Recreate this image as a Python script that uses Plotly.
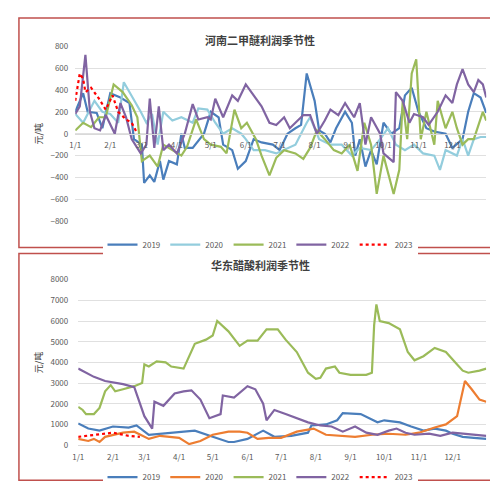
import plotly.graph_objects as go

# ---- Top chart: 河南二甲醚利润季节性 ----
t19_d = ["01-01","01-08","01-12","01-20","01-25","02-01","02-10","02-18","02-22","03-01","03-03","03-08","03-12","03-17","03-20","03-25","04-01","04-05","04-08","04-15","04-25","05-01","05-08","05-12","05-20","05-25","06-01","06-08","06-15","06-25","07-01","07-08","07-15","07-20","07-25","08-01","08-05","08-10","08-15","08-20","08-28","09-03","09-06","09-10","09-15","09-20","09-25","10-01","10-08","10-15","10-20","10-26","11-01","11-08","11-15","11-25","12-01","12-10","12-15","12-20","12-26","12-31"]
t19_v = [200,370,200,190,50,370,330,280,-50,-100,-450,-380,-440,-250,-420,-250,-280,0,-130,-130,0,200,150,-100,-150,-320,-250,-50,-80,-100,-150,0,50,80,550,300,30,0,-80,50,200,100,-200,-50,-300,-150,-280,100,0,50,350,420,200,50,20,0,-130,-50,200,370,330,190]
t20_d = ["01-01","01-08","01-18","01-25","02-01","02-08","02-13","02-20","02-28","03-05","03-10","03-15","03-20","03-28","04-05","04-15","04-20","04-28","05-05","05-12","05-20","05-28","06-01","06-08","06-18","06-28","07-05","07-15","07-25","07-28","08-05","08-15","08-25","09-03","09-10","09-20","09-28","10-05","10-12","10-20","10-28","11-05","11-15","11-20","11-25","12-05","12-10","12-15","12-20","12-26","12-31"]
t20_v = [180,100,300,200,180,100,470,350,200,100,180,-100,200,120,150,100,230,220,100,0,50,0,-50,-150,-150,-180,-150,-100,100,150,-50,-100,-100,-200,-130,-150,-50,50,-100,-150,-100,-180,-200,-330,-150,-200,-50,-200,-50,-30,-30]
t21_d = ["01-01","01-08","01-15","01-22","01-28","02-04","02-12","02-20","02-25","03-01","03-08","03-15","03-20","03-28","04-05","04-10","04-18","04-25","05-01","05-10","05-15","05-22","05-28","06-02","06-10","06-15","06-22","06-28","07-05","07-15","07-22","07-28","08-03","08-10","08-18","08-25","09-01","09-08","09-14","09-20","09-25","10-01","10-10","10-15","10-18","10-22","10-26","10-30","11-03","11-08","11-15","11-18","11-25","12-01","12-05","12-10","12-15","12-20","12-28","12-31"]
t21_v = [30,100,60,150,150,450,380,260,150,-250,-200,-300,-100,-150,-200,-120,130,-50,-100,-120,-180,220,50,100,-50,-200,-380,-220,-150,-180,-230,-130,30,-50,-150,-180,-100,-340,100,-100,-550,-200,-550,-330,300,-50,550,680,-50,200,-100,300,50,200,50,-100,-50,-50,200,120]
t22_d = ["01-01","01-05","01-10","01-14","01-18","01-23","01-28","02-05","02-10","02-15","02-20","02-28","03-05","03-08","03-12","03-16","03-20","03-25","04-01","04-08","04-15","04-20","04-28","05-01","05-05","05-12","05-20","05-25","06-01","06-08","06-15","06-22","06-28","07-05","07-10","07-15","07-22","07-28","08-03","08-10","08-15","08-22","08-28","09-05","09-10","09-15","09-20","09-28","10-01","10-10","10-12","10-18","10-24","10-28","11-05","11-10","11-18","11-25","12-01","12-05","12-10","12-15","12-20","12-24","12-28","12-31"]
t22_v = [180,250,720,200,50,30,170,0,280,150,-50,-180,-100,320,-130,250,-150,-100,-180,0,270,130,150,130,320,150,350,300,450,350,250,100,80,150,50,100,170,170,0,120,220,170,280,150,280,-100,150,0,-180,-260,380,300,100,180,150,80,200,350,280,450,590,450,380,490,450,330]
t23_d = ["01-01","01-05","01-08","01-10","01-15","01-22","01-28","02-03","02-08","02-15","02-20","02-25"]
t23_v = [300,550,500,380,420,320,220,350,200,130,100,0]

# ---- Bottom chart: 华东醋酸利润季节性 ----
b19_d = ["01-01","01-10","01-20","02-01","02-15","02-22","03-05","03-15","04-01","04-15","05-01","05-15","05-20","06-01","06-15","06-25","07-10","07-25","07-28","08-10","08-20","08-25","09-10","09-25","10-01","10-15","10-25","11-05","11-15","11-25","12-01","12-10","12-20","12-31"]
b19_v = [1050,800,700,900,850,950,500,550,600,700,400,150,150,300,700,400,450,600,950,1000,1200,1550,1500,1100,1200,1100,900,700,800,700,550,400,350,300]
b20_d = ["01-01","01-10","01-15","01-20","01-25","02-10","02-20","03-05","03-15","04-01","04-10","04-20","05-01","05-15","05-25","06-01","06-10","06-20","07-01","07-15","07-25","07-30","08-10","08-25","09-05","09-20","10-05","10-20","11-01","11-15","11-25","12-05","12-12","12-18","12-25","12-31"]
b20_v = [300,200,300,150,400,600,650,300,450,350,50,200,500,650,650,600,300,350,350,650,750,800,500,450,400,500,550,500,600,850,1000,1400,3100,2700,2200,2100]
b21_d = ["01-01","01-05","01-08","01-15","01-20","01-25","01-30","02-03","02-10","02-20","02-27","03-01","03-05","03-12","03-20","03-25","04-05","04-10","04-15","04-25","05-01","05-05","05-15","05-25","06-01","06-10","06-18","06-28","07-05","07-15","07-25","08-01","08-05","08-10","08-18","08-22","09-01","09-15","09-20","09-22","09-24","09-27","10-05","10-15","10-22","10-28","11-05","11-15","11-25","12-05","12-10","12-15","12-25","12-31"]
b21_v = [1850,1700,1500,1500,1800,2600,2900,2600,2700,2850,3000,3900,3800,4050,4000,3800,3700,4300,4900,5100,5300,6000,5500,4800,5050,5050,5600,5600,5100,4500,3500,3200,3250,3700,3800,3500,3400,3400,3500,5800,6800,6000,5900,5600,4500,4100,4300,4700,4500,3900,3600,3500,3600,3700]
b22_d = ["01-01","01-15","01-25","02-10","02-20","03-01","03-08","03-10","03-18","03-28","04-05","04-12","04-20","04-28","05-08","05-10","05-20","06-01","06-08","06-15","06-18","06-25","07-05","07-15","07-25","08-05","08-15","08-25","09-05","09-15","09-25","10-05","10-12","10-20","10-28","11-10","11-20","12-01","12-10","12-20","12-31"]
b22_v = [3700,3300,3100,2950,2800,1400,800,2100,1900,2500,2600,2650,2200,1300,1500,2400,2300,2850,2700,2000,1200,1700,1500,1300,1100,950,900,650,900,600,500,700,800,600,500,550,450,600,550,500,450]
b23_d = ["01-01","01-20","02-01","02-15","02-25"]
b23_v = [400,500,600,450,400]

years = ["2019","2020","2021","2022","2023"]
top_colors = ["#4a7ebb", "#93cddd", "#9bbb59", "#8064a2", "#ff0000"]
bot_colors = ["#4a7ebb", "#ed7d31", "#9bbb59", "#8064a2", "#ff0000"]
month_ticks = ["2021-%02d-01" % m for m in range(1, 13)]
month_text = ["%d/1" % m for m in range(1, 13)]

def dates(d):
    return ["2021-" + s for s in d]

fig = go.Figure()
top = [(t19_d, t19_v), (t20_d, t20_v), (t21_d, t21_v), (t22_d, t22_v), (t23_d, t23_v)]
bot = [(b19_d, b19_v), (b20_d, b20_v), (b21_d, b21_v), (b22_d, b22_v), (b23_d, b23_v)]
for i, (d, v) in enumerate(top):
    fig.add_trace(go.Scatter(x=dates(d), y=v, mode="lines", name=years[i], xaxis="x", yaxis="y",
                             legend="legend",
                             line=dict(color=top_colors[i], width=2.2,
                                       dash="dot" if i == 4 else "solid")))
for i, (d, v) in enumerate(bot):
    fig.add_trace(go.Scatter(x=dates(d), y=v, mode="lines", name=years[i], xaxis="x2", yaxis="y2",
                             legend="legend2",
                             line=dict(color=bot_colors[i], width=2.2,
                                       dash="dot" if i == 4 else "solid")))

W, H = 498, 484
def py(p): return 1 - p / H
def px(p): return p / W

tick_font = dict(family="Noto Sans CJK SC, Noto Sans", size=8, color="#595959")
fig.update_layout(
    width=W, height=H, margin=dict(l=0, r=0, t=0, b=0),
    paper_bgcolor="white", plot_bgcolor="white", font=tick_font,
    xaxis=dict(domain=[px(62), px(478)], anchor="free", position=py(123), type="date",
               range=["2021-01-01", "2021-12-31"], tickvals=month_ticks, ticktext=month_text,
               showgrid=False, showline=True, linecolor="#d9d9d9", ticks="", tickfont=tick_font,
               ticklabelstandoff=4),
    yaxis=dict(domain=[py(213), py(33)], range=[-800, 800], dtick=200, gridcolor="#e0e0e0",
               zeroline=False, tickfont=tick_font, ticklabelstandoff=6,
               title=dict(text="元/吨", font=dict(size=9, color="#404040"), standoff=6)),
    xaxis2=dict(domain=[px(65), px(478)], anchor="y2", type="date",
                range=["2021-01-01", "2021-12-31"], tickvals=month_ticks, ticktext=month_text,
                showgrid=False, showline=True, linecolor="#d9d9d9", ticks="", tickfont=tick_font,
                ticklabelstandoff=4),
    yaxis2=dict(domain=[py(443), py(273)], range=[0, 8000], dtick=1000, gridcolor="#e0e0e0",
                zeroline=False, tickfont=tick_font, ticklabelstandoff=6,
                title=dict(text="元/吨", font=dict(size=9, color="#404040"), standoff=6)),
    legend=dict(orientation="h", x=0.5, xanchor="center", y=py(222), yanchor="top",
                font=dict(size=8, color="#595959"), itemwidth=30),
    legend2=dict(orientation="h", x=0.5, xanchor="center", y=py(461), yanchor="top",
                 font=dict(size=8, color="#595959"), itemwidth=30),
    showlegend=True,
    annotations=[
        dict(text="<b>河南二甲醚利润季节性</b>", x=0.5, y=py(16), xref="paper", yref="paper",
             showarrow=False, font=dict(size=11, color="#404040")),
        dict(text="<b>华东醋酸利润季节性</b>", x=0.5, y=py(258), xref="paper", yref="paper",
             showarrow=False, font=dict(size=11, color="#404040")),
    ],
    shapes=[
        dict(type="rect", xref="paper", yref="paper", x0=px(5), x1=px(492), y0=py(240), y1=py(4),
             line=dict(color="#c0504d", width=1.5)),
        dict(type="rect", xref="paper", yref="paper", x0=px(5), x1=px(492), y0=py(479), y1=py(246),
             line=dict(color="#c0504d", width=1.5)),
    ],
)
fig.write_html("out.html")
